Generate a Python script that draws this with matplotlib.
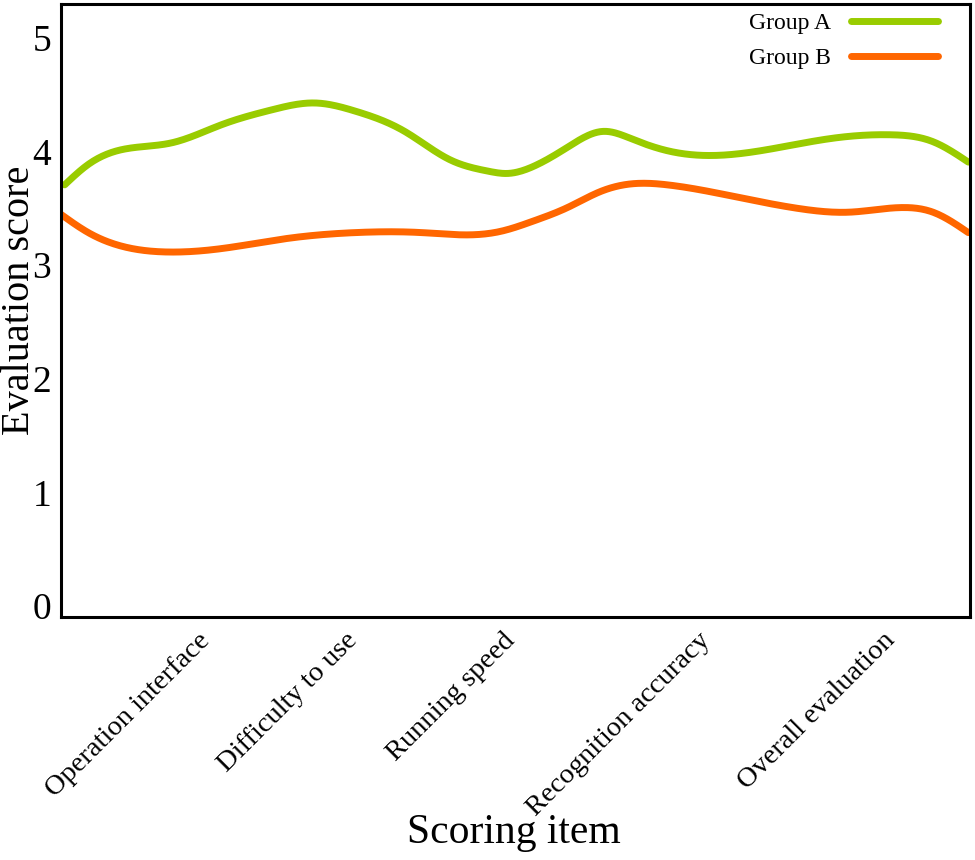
import numpy as np
import matplotlib
matplotlib.use("Agg")
import matplotlib.pyplot as plt
import matplotlib.transforms as mtransforms

plt.rcParams['font.family'] = ['Liberation Serif', 'DejaVu Serif']

# category labels and where they sit along the x axis (axis runs 0..10)
categories = ["Operation interface", "Difficulty to use", "Running speed",
              "Recognition accuracy", "Overall evaluation"]
cat_pos = [1.69, 3.31, 5.05, 7.2, 9.23]

# points
a_x = [0.04, 0.30, 0.67, 1.22, 1.77, 2.32, 2.79, 3.23, 3.78, 4.28, 4.70, 4.90,
       5.19, 5.57, 5.96, 6.29, 6.67, 7.03, 7.77, 8.49, 9.15, 9.59, 9.98]
a_y = [3.74, 3.92, 4.05, 4.11, 4.27, 4.40, 4.46, 4.39, 4.21, 3.96, 3.86, 3.84,
       3.90, 4.07, 4.21, 4.14, 4.04, 4.00, 4.05, 4.15, 4.18, 4.12, 3.94]

b_x = [0.0, 0.30, 0.67, 1.14, 1.77, 2.50, 3.23, 3.97, 4.47, 4.83,
       5.19, 5.57, 5.93, 6.29, 6.67, 7.39, 8.13, 8.68, 9.31, 9.59, 9.98]
b_y = [3.48, 3.32, 3.20, 3.15, 3.18, 3.27, 3.32, 3.32, 3.30, 3.33,
       3.42, 3.54, 3.68, 3.75, 3.74, 3.64, 3.53, 3.50, 3.54, 3.50, 3.32]


def smooth(xs, ys, n=600):
    # natural cubic spline through the read points
    x = np.asarray(xs, float)
    y = np.asarray(ys, float)
    k = len(x)
    h = np.diff(x)
    A = np.zeros((k, k))
    r = np.zeros(k)
    A[0, 0] = 1
    A[-1, -1] = 1
    for i in range(1, k - 1):
        A[i, i - 1] = h[i - 1]
        A[i, i] = 2 * (h[i - 1] + h[i])
        A[i, i + 1] = h[i]
        r[i] = 6 * ((y[i + 1] - y[i]) / h[i] - (y[i] - y[i - 1]) / h[i - 1])
    M = np.linalg.solve(A, r)
    xx = np.linspace(x[0], x[-1], n)
    j = np.clip(np.searchsorted(x, xx) - 1, 0, k - 2)
    t0 = x[j + 1] - xx
    t1 = xx - x[j]
    hj = h[j]
    yy = (M[j] * t0 ** 3 / (6 * hj) + M[j + 1] * t1 ** 3 / (6 * hj)
          + (y[j] / hj - M[j] * hj / 6) * t0
          + (y[j + 1] / hj - M[j + 1] * hj / 6) * t1)
    return xx, yy


fig = plt.figure(figsize=(9.75, 8.6), dpi=100)
ax = fig.add_axes([0.0626, 0.2826, 0.9324, 0.7127])

sx, sy = smooth(a_x, a_y)
ax.plot(sx, sy, color="#99cc00", lw=5, solid_capstyle="round", label="Group A")
sx, sy = smooth(b_x, b_y)
ax.plot(sx, sy, color="#ff6600", lw=5, solid_capstyle="round", label="Group B")

ax.set_xlim(0, 10)
ax.set_ylim(-0.06, 5.33)
ax.set_yticks([0, 1, 2, 3, 4, 5])
ax.set_xticks(cat_pos)
ax.set_xticklabels(categories, rotation=45, ha="right", fontsize=20.5)
ax.tick_params(axis="y", length=0, pad=7, labelsize=27)
ax.tick_params(axis="x", length=0, pad=8)

# nudge y tick labels up a little
up = mtransforms.ScaledTranslation(0, 4 / 100, fig.dpi_scale_trans)
for lab in ax.get_yticklabels():
    lab.set_transform(lab.get_transform() + up)

for s in ax.spines.values():
    s.set_linewidth(2.2)

ax.set_ylabel("Evaluation score", fontsize=29)
ax.yaxis.set_label_coords(-0.025, 0.517)
ax.set_xlabel("Scoring item", fontsize=30)
ax.xaxis.set_label_coords(0.498, -0.32)

ax.legend(loc="upper right", frameon=False, markerfirst=False, fontsize=17,
          handlelength=3.7, handletextpad=0.85, labelspacing=0.56,
          borderaxespad=0.3, bbox_to_anchor=(0.983, 1.013))

fig.savefig("out.png", dpi=100)
